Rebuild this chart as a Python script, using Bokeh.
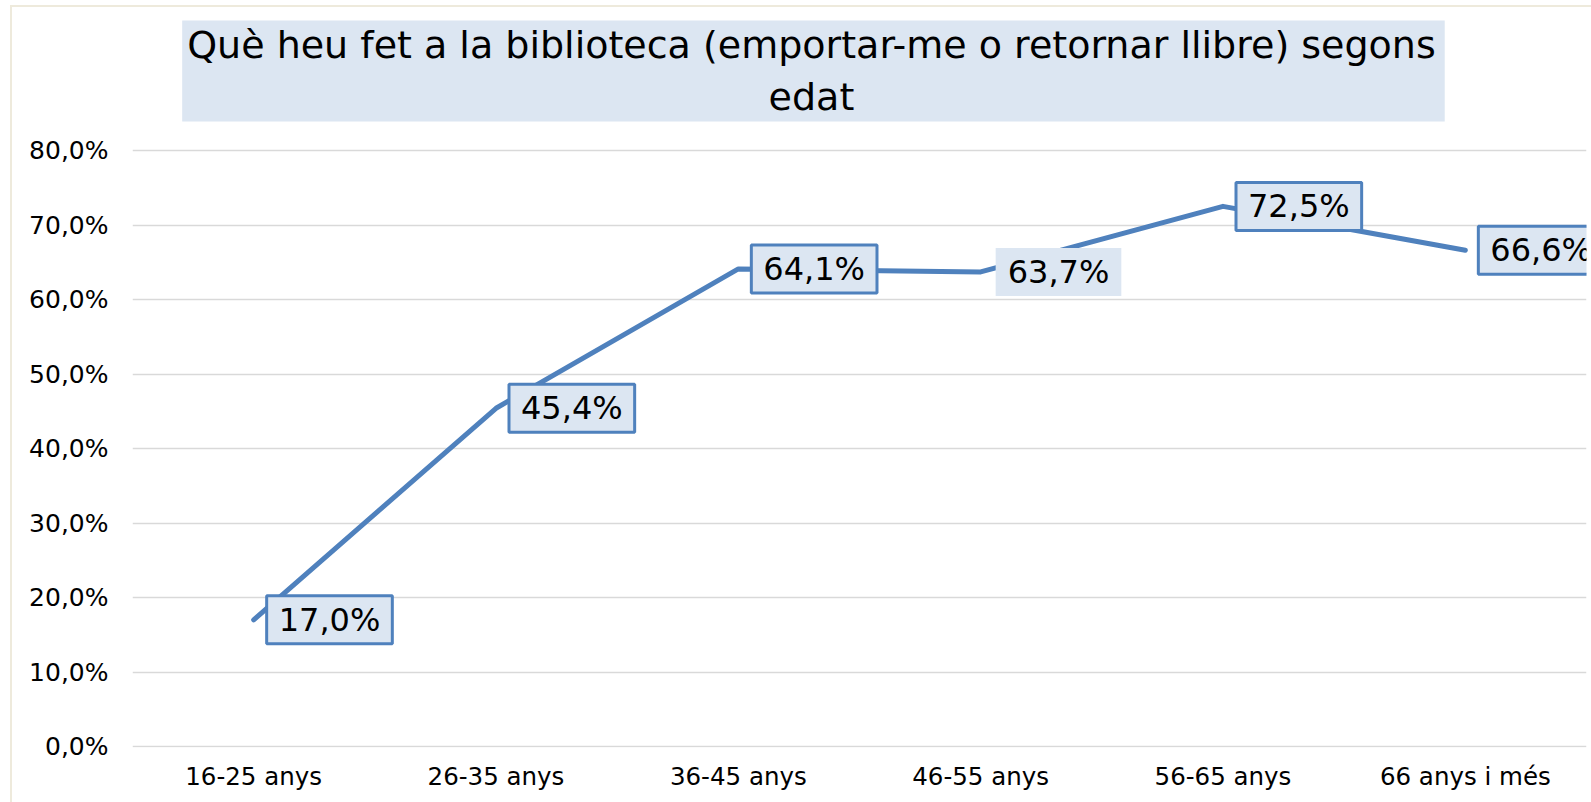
from bokeh.plotting import figure
from bokeh.models import (ColumnDataSource, Label, FixedTicker, FactorRange, Range1d)
from bokeh.embed import file_html
from bokeh.resources import INLINE

# ---- data ----
categories = ["16-25 anys", "26-35 anys", "36-45 anys", "46-55 anys", "56-65 anys", "66 anys i més"]
values = [17.0, 45.4, 64.1, 63.7, 72.5, 66.6]
label_boxed = [True, True, True, False, True, True]
y_ticks = [0, 10, 20, 30, 40, 50, 60, 70, 80]
title_text = "Què heu fet a la biblioteca (emportar-me o retornar llibre) segons\nedat"

def pct(v):
    return f"{v:.1f}".replace(".", ",") + "%"

labels = [pct(v) for v in values]

FONT = "DejaVu Sans"
BLUE = "#4f81bd"
FILL = "#dce6f2"
EDGE = "#eeeadc"

# frame extends above the 80 % gridline so that the title box (an annotation) is not clipped
p = figure(width=1591, height=802, output_backend="svg", toolbar_location=None,
           x_range=FactorRange(*categories, range_padding=0, factor_padding=0),
           y_range=Range1d(-0.134, 98.255),
           min_border_left=132, min_border_right=5, min_border_top=14, min_border_bottom=55)
p.outline_line_color = None
p.background_fill_color = "white"
p.border_fill_color = "white"
p.border_fill_alpha = 0
# faint outer chart-area edge (left and top), drawn behind the transparent canvas border
p.styles = {
    "background-color": "white",
    "background-image": f"linear-gradient({EDGE}, {EDGE}), linear-gradient({EDGE}, {EDGE})",
    "background-size": "2px 100%, 100% 2px",
    "background-position": "10px 5px, 10px 5px",
    "background-repeat": "no-repeat",
}

p.xgrid.grid_line_color = None
p.ygrid.grid_line_color = "#d9d9d9"
p.ygrid.grid_line_width = 1.5

p.yaxis.ticker = FixedTicker(ticks=y_ticks)
p.ygrid.ticker = FixedTicker(ticks=y_ticks)
p.yaxis.major_label_overrides = {t: pct(t) for t in y_ticks}
for ax in (p.xaxis, p.yaxis):
    ax.axis_line_color = None
    ax.major_tick_line_color = None
    ax.minor_tick_line_color = None
    ax.major_tick_out = 0
    ax.major_tick_in = 0
    ax.major_label_text_font = FONT
    ax.major_label_text_color = "#000000"
p.xaxis.major_label_text_font_size = "24.5px"
p.yaxis.major_label_text_font_size = "25px"
p.yaxis.major_label_standoff = 24
p.xaxis.major_label_standoff = 14

src = ColumnDataSource(dict(x=categories, y=values, label=labels))
p.line("x", "y", source=src, line_color=BLUE, line_width=5,
       line_cap="round", line_join="round")

pad = dict(left=12, right=12, top=5, bottom=5)
for i, (v, lab, boxed) in enumerate(zip(values, labels, label_boxed)):
    p.add_layout(Label(x=i + 0.5, y=v, text=lab,
                       x_offset=13 if boxed else 15, text_align="left", text_baseline="middle",
                       text_font=FONT, text_font_size="32px", text_color="#000000",
                       background_fill_color=FILL,
                       border_line_color=BLUE if boxed else None, border_line_width=3,
                       padding=pad))

# title box
title = Label(x=2.81, y=97.45, text=title_text,
              text_align="center", text_baseline="top", text_font=FONT,
              text_font_size="38px", text_color="#000000", text_line_height=1.18,
              background_fill_color=FILL, padding=dict(left=5, right=9, top=3, bottom=2))
p.add_layout(title)

open("out.html", "w").write(file_html(p, INLINE))
